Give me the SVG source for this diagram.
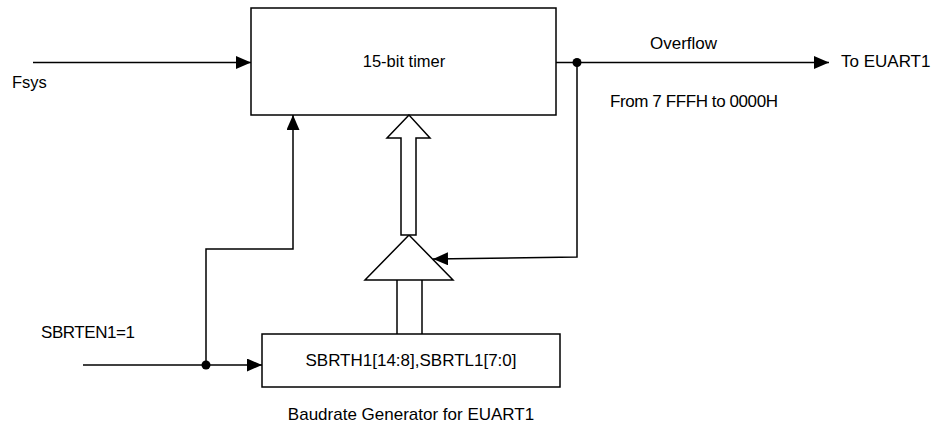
<svg xmlns="http://www.w3.org/2000/svg" width="933" height="425" viewBox="0 0 933 425">
<defs>
<style>
.box{fill:#fff;stroke:#000;stroke-width:1.5}
.ln{fill:none;stroke:#000;stroke-width:1.5}
.t{font-family:"Liberation Sans",Arial,sans-serif;font-size:17px;fill:#000}
.s{font-size:16.5px}
.dot{fill:#000}
</style>
<marker id="arr" viewBox="0 0 15 13" refX="15" refY="6.5" markerWidth="15" markerHeight="13" markerUnits="userSpaceOnUse" orient="auto">
<path d="M0,0 L15,6.5 L0,13 Z" fill="#000"/>
</marker>
</defs>
<rect width="933" height="425" fill="#fff"/>
<g id="timer">
<rect class="box" x="251" y="8" width="305" height="107"/>
<text class="t s" x="404" y="67" text-anchor="middle">15-bit timer</text>
</g>
<g id="reload">
<rect class="box" x="262" y="334" width="298" height="53"/>
<text class="t" x="411" y="366" text-anchor="middle">SBRTH1[14:8],SBRTL1[7:0]</text>
</g>
<g id="mux">
<polygon class="box" points="409,235 365,280 453,280"/>
</g>
<g id="labels">
<text class="t s" x="12" y="88">Fsys</text>
<text class="t" x="41" y="338" textLength="94" lengthAdjust="spacing">SBRTEN1=1</text>
<text class="t" x="650" y="49">Overflow</text>
<text class="t" x="841" y="66.5">To EUART1</text>
<text class="t" x="610" y="107" textLength="168" lengthAdjust="spacing">From 7 FFFH to 0000H</text>
<text class="t" x="411" y="420" text-anchor="middle">Baudrate Generator for EUART1</text>
</g>
<g id="connectors">
<line class="ln" x1="33" y1="62.5" x2="251" y2="62.5" marker-end="url(#arr)"/>
<line class="ln" x1="556" y1="62.5" x2="829" y2="62.5" marker-end="url(#arr)"/>
<polyline class="ln" points="577,62.5 577,257 433,259" marker-end="url(#arr)"/>
<line class="ln" x1="83" y1="365" x2="262" y2="365" marker-end="url(#arr)"/>
<polyline class="ln" points="206,365 206,249 293,249 293,115" marker-end="url(#arr)"/>
<polygon class="box" points="409,115 387,138 401,138 401,235 416,235 416,138 430,138"/>
<line class="ln" x1="397" y1="280" x2="397" y2="334"/>
<line class="ln" x1="422" y1="280" x2="422" y2="334"/>
<circle class="dot" cx="577" cy="62.5" r="4.5"/>
<circle class="dot" cx="206" cy="365" r="4.5"/>
</g>
</svg>
